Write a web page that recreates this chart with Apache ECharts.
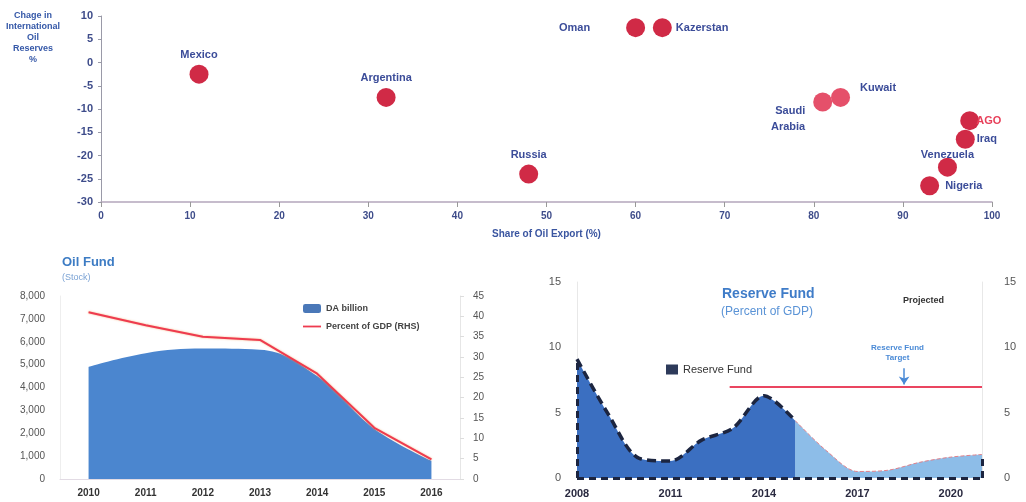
<!DOCTYPE html>
<html>
<head>
<meta charset="utf-8">
<script src="https://cdn.jsdelivr.net/npm/echarts@6/dist/echarts.min.js"></script>
<style>
  html, body { margin: 0; padding: 0; background: #fff; }
  #main { width: 1026px; height: 502px; }
</style>
</head>
<body>
<div id="main"></div>
<script>
// top scatter: share of oil export vs change in reserves
const countries = ["Mexico", "Argentina", "Russia", "Oman", "Kazerstan", "Saudi\nArabia", "Kuwait", "AGO", "Iraq", "Venezuela", "Nigeria"];
const oilShare = [11, 32, 48, 60, 63, 81, 83, 97.5, 97, 95, 93];
const reserveChange = [-2.5, -7.5, -24, 7.5, 7.5, -8.5, -7.5, -12.5, -16.5, -22.5, -26.5];

// bottom left: oil fund stock
const oilYears = ["2010", "2011", "2012", "2013", "2014", "2015", "2016"];
const oilFundDA = [4900, 5500, 5700, 5650, 4500, 2200, 800];
const oilFundPctGdp = [41, 37.8, 35, 34.2, 25.9, 12.6, 4.8];

// bottom right: reserve fund (percent of GDP)
const rfYears = [2008, 2009, 2010, 2011, 2012, 2013, 2014, 2015, 2016, 2017, 2018, 2019, 2020, 2021];
const rfValues = [9.1, 4.9, 1.5, 1.3, 2.9, 3.8, 6.3, 4.4, 2.1, 0.5, 0.6, 1.2, 1.6, 1.8];
const rfProjectedFrom = 2015;
const rfTarget = 7;
const rfTargetFrom = 2012.9;

const blueText = "#3b4c99";
const labelFont = "Liberation Sans";

// label placement per country (style only)
const labelStyle = {
  "Mexico": { position: "top", distance: 2 },
  "Argentina": { position: "top", distance: 2 },
  "Russia": { position: "top", distance: 2 },
  "Oman": { position: "left", distance: 36 },
  "Kazerstan": { position: "right", distance: 4 },
  "Saudi\nArabia": { position: "left", distance: 8, offset: [0, 17], align: "left" },
  "Kuwait": { position: "right", distance: 10, offset: [0, -9] },
  "AGO": { position: "right", distance: -3, color: "#e8405a" },
  "Iraq": { position: "right", distance: 2 },
  "Venezuela": { position: "top", distance: -5 },
  "Nigeria": { position: "right", distance: 6 },
};
const lightDots = ["Saudi\nArabia", "Kuwait"];

const scatterData = countries.map((name, i) => {
  const ls = labelStyle[name] || {};
  return {
    name,
    value: [oilShare[i], reserveChange[i]],
    itemStyle: { color: lightDots.includes(name) ? "#e5506a" : "#d02a46", opacity: 1 },
    label: {
      show: true,
      formatter: name,
      position: ls.position,
      distance: ls.distance,
      offset: ls.offset || [0, 0],
      color: ls.color || blueText,
      fontFamily: labelFont,
      fontWeight: "bold",
      fontSize: 11,
      lineHeight: 16,
    },
  };
});

const rfHist = rfYears.map((y, i) => [y, rfValues[i]]).filter((d) => d[0] <= rfProjectedFrom);
const rfProj = rfYears.map((y, i) => [y, rfValues[i]]).filter((d) => d[0] >= rfProjectedFrom);
const rfFirst = rfYears[0];
const rfLast = rfYears[rfYears.length - 1];

const chart = echarts.init(document.getElementById("main"));
chart.setOption({
  animation: false,
  textStyle: { fontFamily: labelFont },
  grid: [
    { left: 101, top: 16, width: 891, height: 186 },
    { left: 60, top: 296, width: 400, height: 183 },
    { left: 577, top: 282, width: 405, height: 196 },
  ],
  graphic: [
    { type: "text", left: 6, top: 10, style: { text: "Chage in\nInternational\nOil\nReserves\n%", fill: "#3558a8", font: "bold 9px Liberation Sans", textAlign: "center", lineHeight: 11, x: 29 } },
    { type: "text", left: 62, top: 256, style: { text: "Oil Fund", fill: "#3d7cc4", font: "bold 13px Liberation Sans" } },
    { type: "text", left: 62, top: 273, style: { text: "(Stock)", fill: "#7aa2d4", font: "9px Liberation Sans" } },
    { type: "text", left: 722, top: 287, style: { text: "Reserve Fund", fill: "#3f7cc8", font: "bold 14px Liberation Sans" } },
    { type: "text", left: 721, top: 306, style: { text: "(Percent of GDP)", fill: "#5a93d6", font: "12px Liberation Sans" } },
    { type: "text", left: 903, top: 296, style: { text: "Projected", fill: "#333", font: "bold 9px Liberation Sans" } },
    { type: "text", left: 871, top: 343, style: { text: "Reserve Fund\nTarget", fill: "#4a8ad6", font: "bold 8px Liberation Sans", textAlign: "center", x: 34, lineHeight: 10 } },
  ],
  legend: [
    {
      left: 298, top: 299, orient: "vertical", itemGap: 9, itemWidth: 18, itemHeight: 9,
      textStyle: { color: "#444", fontSize: 9, fontWeight: "bold" },
      data: [
        { name: "DA billion", icon: "roundRect", itemStyle: { color: "#4a78b8" } },
        { name: "Percent of GDP (RHS)", icon: "path://M0 4h20v2H0z", itemStyle: { color: "#ee3b4f" } },
      ],
    },
    {
      left: 661, top: 359, itemWidth: 12, itemHeight: 10,
      textStyle: { color: "#333", fontSize: 11 },
      data: [{ name: "Reserve Fund", icon: "rect", itemStyle: { color: "#2d3a5a" } }],
    },
  ],
  xAxis: [
    {
      type: "value", gridIndex: 0, min: 0, max: 100, interval: 10,
      name: "Share of Oil Export (%)", nameLocation: "middle", nameGap: 27,
      nameTextStyle: { color: "#3a55a0", fontWeight: "bold", fontSize: 10 },
      axisLine: { onZero: false, lineStyle: { color: "#b4a6bc", width: 1.5 } },
      axisTick: { lineStyle: { color: "#999" } },
      axisLabel: { color: "#3e4c8a", fontWeight: "bold", fontSize: 10, margin: 9 },
      splitLine: { show: false },
    },
    {
      type: "category", gridIndex: 1, data: oilYears, boundaryGap: true,
      axisLine: { lineStyle: { color: "#e2dbe4" } },
      axisTick: { show: false },
      axisLabel: { color: "#333", fontWeight: "bold", fontSize: 10, margin: 9 },
    },
    {
      type: "value", gridIndex: 2, min: rfFirst, max: rfLast, interval: 3,
      axisLine: { show: false, onZero: false },
      axisTick: { show: false },
      axisLabel: { color: "#2a2a40", fontWeight: "bold", fontSize: 11, margin: 10, showMaxLabel: false, formatter: (v) => String(v) },
      splitLine: { show: false },
    },
  ],
  yAxis: [
    {
      type: "value", gridIndex: 0, min: -30, max: 10, interval: 5,
      axisLine: { show: true, onZero: false, lineStyle: { color: "#9a9aa8" } },
      axisTick: { show: true, length: 3, lineStyle: { color: "#9a9aa8" } },
      axisLabel: { color: "#3e4c8a", fontWeight: "bold", fontSize: 11, margin: 8 },
      splitLine: { show: false },
    },
    {
      type: "value", gridIndex: 1, min: 0, max: 8000, interval: 1000,
      axisLine: { show: true, lineStyle: { color: "#eeeeee" } },
      axisTick: { show: false },
      axisLabel: { color: "#555", fontSize: 10, margin: 15, formatter: (v) => v.toLocaleString("en-US") },
      splitLine: { show: false },
    },
    {
      type: "value", gridIndex: 1, position: "right", min: 0, max: 45, interval: 5,
      axisLine: { show: true, lineStyle: { color: "#e6e6e6" } },
      axisTick: { show: true, length: 4, lineStyle: { color: "#ddd" } },
      axisLabel: { color: "#555", fontSize: 10, margin: 13 },
      splitLine: { show: false },
    },
    {
      type: "value", gridIndex: 2, min: 0, max: 15, interval: 5,
      axisLine: { show: true, lineStyle: { color: "#e8e8e8" } },
      axisTick: { show: false },
      axisLabel: { color: "#555", fontSize: 11, margin: 16 },
      splitLine: { show: false },
    },
    {
      type: "value", gridIndex: 2, position: "right", min: 0, max: 15, interval: 5,
      axisLine: { show: true, lineStyle: { color: "#e8e8e8" } },
      axisTick: { show: false },
      axisLabel: { color: "#555", fontSize: 11, margin: 22 },
      splitLine: { show: false },
    },
  ],
  series: [
    {
      type: "scatter", xAxisIndex: 0, yAxisIndex: 0, symbolSize: 19,
      data: scatterData,
    },
    {
      name: "DA billion", type: "line", xAxisIndex: 1, yAxisIndex: 1,
      data: oilFundDA, smooth: 0.4, symbol: "none",
      lineStyle: { width: 0 },
      areaStyle: { color: "#4b86cf", opacity: 1 },
      itemStyle: { color: "#4a78b8" },
    },
    {
      name: "Percent of GDP (RHS)", type: "line", xAxisIndex: 1, yAxisIndex: 2,
      data: oilFundPctGdp, symbol: "none",
      lineStyle: { color: "#ee3b4f", width: 2, shadowColor: "rgba(240,150,80,0.7)", shadowBlur: 2 },
      itemStyle: { color: "#ee3b4f" },
    },
    {
      name: "Projected", type: "line", xAxisIndex: 2, yAxisIndex: 3,
      data: rfProj, smooth: 0.3, symbol: "none",
      lineStyle: { color: "#e0808a", width: 1, type: "dashed" },
      areaStyle: { color: "#8dbde8", opacity: 1 },
      z: 2,
    },
    {
      name: "Reserve Fund", type: "line", xAxisIndex: 2, yAxisIndex: 3,
      data: rfHist, smooth: 0.3, symbol: "none",
      lineStyle: { color: "#1c2540", width: 3.5, type: [9, 5] },
      areaStyle: { color: "#3b6fc1", opacity: 1 },
      itemStyle: { color: "#2d3a5a" },
      z: 3,
      markLine: {
        silent: true, symbol: "none", label: { show: false },
        lineStyle: { color: "#1c2540", width: 3, type: [7, 5] },
        data: [
          [{ coord: [rfFirst, 0] }, { coord: [rfLast, 0] }],
          [{ coord: [rfLast, 0] }, { coord: [rfLast, rfValues[rfValues.length - 1]] }],
          [{ coord: [rfFirst, 0] }, { coord: [rfFirst, rfValues[0]] }],
          [
            { coord: [rfTargetFrom, rfTarget], lineStyle: { color: "#ea4560", width: 2, type: "solid" } },
            { coord: [rfLast, rfTarget] },
          ],
          [
            { coord: [2018.5, 8.4], symbol: "none", lineStyle: { color: "#4a8ad6", width: 1.5, type: "solid" } },
            { coord: [2018.5, 7.15], symbol: "arrow", symbolSize: 8 },
          ],
        ],
      },
    },
  ],
});
</script>
</body>
</html>
